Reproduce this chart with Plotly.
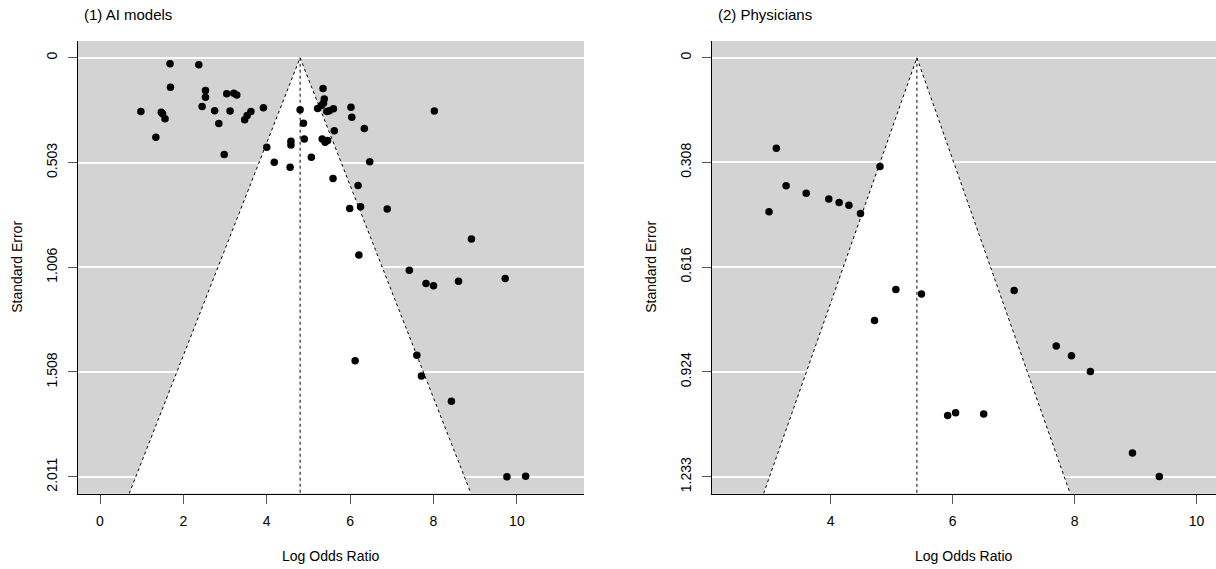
import plotly.graph_objects as go

# ---------------- data ----------------
ai_lor = [1.68, 2.37, 1.69, 2.53, 2.53, 3.04, 3.21, 3.28, 0.98, 1.47, 1.50, 1.56,
          2.45, 2.75, 3.12, 2.85, 3.62, 3.53, 3.47, 3.92, 1.34, 2.98, 4.00, 4.18,
          4.56, 4.58, 4.58, 4.80, 4.88, 4.90, 5.07, 5.35, 5.38, 5.36, 5.31, 5.22,
          5.44, 5.50, 5.60, 5.33, 5.40, 5.46, 5.62, 6.02, 6.04, 6.34, 6.47, 5.59,
          6.19, 5.99, 6.25, 6.21, 8.02, 6.89, 8.91, 7.42, 7.82, 8.00, 8.60, 9.72,
          7.60, 6.12, 7.71, 8.43, 9.76, 10.21]
ai_se = [0.029, 0.034, 0.142, 0.157, 0.190, 0.173, 0.170, 0.179, 0.258, 0.262, 0.269, 0.293,
         0.234, 0.254, 0.256, 0.315, 0.258, 0.277, 0.298, 0.240, 0.381, 0.464, 0.430, 0.501,
         0.526, 0.401, 0.419, 0.250, 0.314, 0.390, 0.477, 0.147, 0.198, 0.218, 0.229, 0.243,
         0.258, 0.254, 0.245, 0.390, 0.406, 0.397, 0.350, 0.238, 0.286, 0.339, 0.499, 0.579,
         0.613, 0.723, 0.715, 0.947, 0.256, 0.726, 0.870, 1.020, 1.083, 1.094, 1.073, 1.060,
         1.428, 1.454, 1.527, 1.649, 2.011, 2.009]
ai_center = 4.80

phys_lor = [3.11, 4.81, 3.27, 3.60, 3.97, 4.14, 4.30, 2.99, 4.49, 5.07, 5.49, 7.01,
            4.72, 7.70, 7.95, 8.26, 5.92, 6.05, 6.51, 8.95, 9.39]
phys_se = [0.266, 0.320, 0.377, 0.399, 0.416, 0.426, 0.434, 0.453, 0.458, 0.682, 0.695, 0.685,
           0.773, 0.848, 0.877, 0.923, 1.053, 1.045, 1.048, 1.163, 1.232]
phys_center = 5.415

ai_yticks = [0, 0.503, 1.006, 1.508, 2.011]
ai_ytext = ["0", "0.503", "1.006", "1.508", "2.011"]
phys_yticks = [0, 0.308, 0.616, 0.924, 1.233]
phys_ytext = ["0", "0.308", "0.616", "0.924", "1.233"]
ai_xticks = [0, 2, 4, 6, 8, 10]
phys_xticks = [4, 6, 8, 10]

titles = ["(1) AI models", "(2) Physicians"]
xlabel = "Log Odds Ratio"
ylabel = "Standard Error"

# ---------------- figure ----------------
W, H = 1216, 569
FONT = "Liberation Sans, Arial, Helvetica, sans-serif"
GREY = "#D3D3D3"


def px(xs):
    return xs / W


def py(ys):
    return 1 - ys / H


fig = go.Figure()

panels = [
    dict(lor=ai_lor, se=ai_se, c=ai_center, yt=ai_yticks, ytx=ai_ytext, xt=ai_xticks,
         xr=[-0.535, 11.61], dom=[px(77.7), px(584)], xa="x", ya="y"),
    dict(lor=phys_lor, se=phys_se, c=phys_center, yt=phys_yticks, ytx=phys_ytext, xt=phys_xticks,
         xr=[2.05, 10.32], dom=[px(711.7), 1.0], xa="x2", ya="y2"),
]

ydom = [py(493.5), py(41)]

for i, p in enumerate(panels):
    ymax = max(p["yt"]) * 1.04
    ymin = -max(p["yt"]) * 0.04
    c = p["c"]
    fx = [c - 1.96 * ymax, c, c + 1.96 * ymax]
    fy = [ymax, 0, ymax]
    # white funnel region
    fig.add_trace(go.Scatter(x=fx + [fx[0]], y=fy + [fy[0]], fill="toself", fillcolor="white",
                             mode="lines", line=dict(width=0), hoverinfo="skip",
                             xaxis=p["xa"], yaxis=p["ya"], showlegend=False))
    # dotted funnel edges
    fig.add_trace(go.Scatter(x=fx, y=fy, mode="lines",
                             line=dict(color="black", width=1, dash="dot"), hoverinfo="skip",
                             xaxis=p["xa"], yaxis=p["ya"], showlegend=False))
    # dotted centre line
    fig.add_trace(go.Scatter(x=[c, c], y=[0, ymax], mode="lines",
                             line=dict(color="black", width=1, dash="dot"), hoverinfo="skip",
                             xaxis=p["xa"], yaxis=p["ya"], showlegend=False))
    # points
    fig.add_trace(go.Scatter(x=p["lor"], y=p["se"], mode="markers",
                             marker=dict(color="black", size=7.5, line=dict(width=0)),
                             xaxis=p["xa"], yaxis=p["ya"], showlegend=False))

    xkey = "xaxis" if i == 0 else "xaxis2"
    ykey = "yaxis" if i == 0 else "yaxis2"
    fig.update_layout(**{
        xkey: dict(domain=p["dom"], range=p["xr"], tickvals=p["xt"],
                   ticktext=[str(v) for v in p["xt"]],
                   showgrid=False, zeroline=False, showline=True, linecolor="black", linewidth=1,
                   ticks="outside", ticklen=9, tickwidth=1, tickcolor="#555555",
                   ticklabelstandoff=6, anchor=p["ya"],
                   tickfont=dict(family=FONT, size=14, color="black"), automargin=False),
        ykey: dict(domain=ydom, range=[ymax, ymin], tickvals=p["yt"], ticktext=p["ytx"],
                   showgrid=True, gridcolor="white", gridwidth=1.5,
                   zeroline=False, showline=True, linecolor="black", linewidth=1,
                   ticks="outside", ticklen=9, tickwidth=1, tickcolor="#555555",
                   tickangle=-90, anchor=p["xa"], ticklabelstandoff=5,
                   tickfont=dict(family=FONT, size=14, color="black"), automargin=False),
    })
    # titles and axis labels
    x0, x1 = p["dom"]
    fig.add_annotation(text=titles[i], x=x0 + 4 / W, y=py(14), xref="paper", yref="paper",
                       xanchor="left", yanchor="middle", showarrow=False,
                       font=dict(family=FONT, size=15, color="black"))
    fig.add_annotation(text=xlabel, x=(x0 + x1) / 2, y=py(556), xref="paper", yref="paper",
                       xanchor="center", yanchor="middle", showarrow=False,
                       font=dict(family=FONT, size=14, color="black"))
    fig.add_annotation(text=ylabel, x=x0 - 60.2 / W, y=(ydom[0] + ydom[1]) / 2,
                       xref="paper", yref="paper", textangle=-90,
                       xanchor="center", yanchor="middle", showarrow=False,
                       font=dict(family=FONT, size=14, color="black"))

# grey panel backgrounds (below everything)
for p in panels:
    fig.add_shape(type="rect", xref="paper", yref="paper", x0=p["dom"][0], x1=p["dom"][1],
                  y0=ydom[0], y1=ydom[1], fillcolor=GREY, line=dict(width=0), layer="below")

fig.update_layout(width=W, height=H, margin=dict(l=0, r=0, t=0, b=0),
                  paper_bgcolor="white", plot_bgcolor=GREY, hovermode=False,
                  font=dict(family=FONT, size=14, color="black"))

fig.write_html("out.html", config={"displayModeBar": False},
               post_script="document.body.style.margin='0';document.body.style.overflow='hidden';")
